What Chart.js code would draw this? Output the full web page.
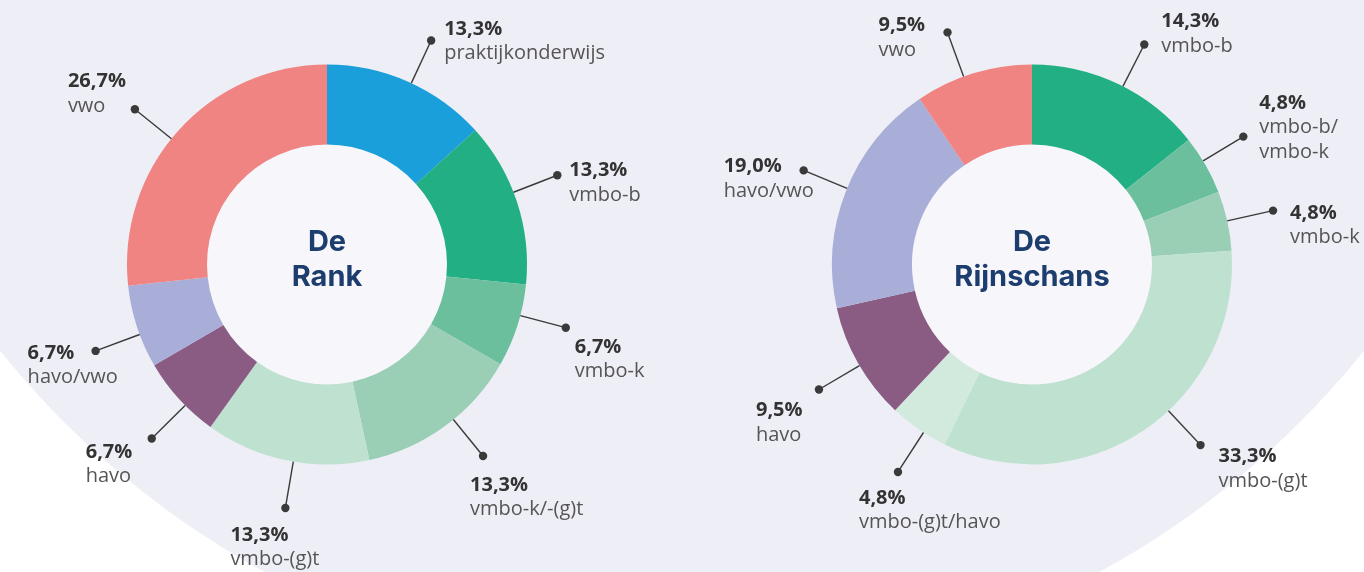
<!DOCTYPE html>
<html>
<head>
<meta charset="utf-8">
<script src="https://cdn.jsdelivr.net/npm/chart.js@4"></script>
<style>
    html, body { margin: 0; padding: 0; }
    body {
        width: 1364px;
        height: 572px;
        overflow: hidden;
        position: relative;
        background: #ffffff;
    }
    .backdrop {
        position: absolute;
        left: -192px;
        top: -1070px;
        width: 1748px;
        height: 1748px;
        border-radius: 50%;
        background: #eeeef6;
    }
    canvas { position: absolute; top: 0; }
    #rankChart { left: 0; }
    #rijnschansChart { left: 682px; }
</style>
</head>
<body>
<div class="backdrop"></div>
<canvas id="rankChart" width="682" height="572"></canvas>
<canvas id="rijnschansChart" width="682" height="572"></canvas>
<script>
// Data
const rankTitle = ['De', 'Rank'];
const rankLabels = ['praktijkonderwijs', 'vmbo-b', 'vmbo-k', 'vmbo-k/-(g)t', 'vmbo-(g)t', 'havo', 'havo/vwo', 'vwo'];
const rankValues = [13.3, 13.3, 6.7, 13.3, 13.3, 6.7, 6.7, 26.7];

const rijnTitle = ['De', 'Rijnschans'];
const rijnLabels = ['vmbo-b', ['vmbo-b/', 'vmbo-k'], 'vmbo-k', 'vmbo-(g)t', 'vmbo-(g)t/havo', 'havo', 'havo/vwo', 'vwo'];
const rijnValues = [14.3, 4.8, 4.8, 33.3, 4.8, 9.5, 19.0, 9.5];

// Colours
const rankColors = ['#1b9fda', '#22af83', '#6cbf9d', '#9acfb5', '#bfe1d0', '#8a5c83', '#a9aed8', '#f08482'];
const rijnColors = ['#22af83', '#6cbf9d', '#9acfb5', '#bfe1d0', '#d2eade', '#8a5c83', '#a9aed8', '#f08482'];

const FONT = '"Open Sans", "Noto Sans", sans-serif';

// Centre disc, title, leader lines and labels
const calloutPlugin = {
    id: 'callout',
    beforeDatasetsDraw(chart, args, opts) {
        const arc = chart.getDatasetMeta(0).data[0];
        if (!arc) return;
        const ctx = chart.ctx;
        ctx.save();
        ctx.beginPath();
        ctx.arc(arc.x, arc.y, arc.innerRadius, 0, Math.PI * 2);
        ctx.fillStyle = '#f7f7fb';
        ctx.fill();
        ctx.restore();
    },
    afterDatasetsDraw(chart, args, opts) {
        const ctx = chart.ctx;
        const meta = chart.getDatasetMeta(0);
        const values = chart.data.datasets[0].data;
        const labels = chart.data.labels;
        ctx.save();

        meta.data.forEach((arc, i) => {
            const p = arc.getProps(['x', 'y', 'startAngle', 'endAngle', 'outerRadius']);
            const angle = (p.startAngle + p.endAngle) / 2 + (opts.nudge[i] || 0) * Math.PI / 180;
            const cos = Math.cos(angle), sin = Math.sin(angle);
            const x0 = p.x + cos * p.outerRadius;
            const y0 = p.y + sin * p.outerRadius;
            const x1 = p.x + cos * p.outerRadius * 1.235;
            const y1 = p.y + sin * p.outerRadius * 1.235;

            ctx.strokeStyle = '#3a3a3a';
            ctx.lineWidth = 1.4;
            ctx.beginPath();
            ctx.moveTo(x0, y0);
            ctx.lineTo(x1, y1);
            ctx.stroke();
            ctx.fillStyle = '#3a3a3a';
            ctx.beginPath();
            ctx.arc(x1, y1, 4.2, 0, Math.PI * 2);
            ctx.fill();

            const off = opts.offsets[i];
            const tx = x1 + off[0];
            let ty = y1 + off[1];
            ctx.textAlign = 'left';
            ctx.textBaseline = 'alphabetic';
            ctx.font = 'bold 20px ' + FONT;
            ctx.fillStyle = '#333333';
            ctx.fillText(values[i].toFixed(1).replace('.', ',') + '%', tx, ty);
            ctx.font = '20px ' + FONT;
            ctx.fillStyle = '#555555';
            [].concat(labels[i]).forEach(line => {
                ty += 24.5;
                ctx.fillText(line, tx, ty);
            });
        });

        // title in the middle
        const c = meta.data[0];
        ctx.font = 'bold 29px Inter, Roboto, sans-serif';
        ctx.fillStyle = '#1c3d6e';
        ctx.textAlign = 'center';
        ctx.fillText(opts.title[0], c.x, c.y - 14);
        ctx.fillText(opts.title[1], c.x, c.y + 21);
        ctx.restore();
    }
};

function makeDoughnut(id, labels, values, colors, padding, callout) {
    const ctx = document.getElementById(id).getContext('2d');
    return new Chart(ctx, {
        type: 'doughnut',
        data: {
            labels: labels,
            datasets: [{
                data: values,
                backgroundColor: colors,
                borderWidth: 0
            }]
        },
        options: {
            responsive: false,
            animation: false,
            cutout: '60%',
            layout: { padding: padding },
            plugins: {
                legend: { display: false },
                tooltip: { enabled: false },
                callout: callout
            }
        },
        plugins: [calloutPlugin]
    });
}

// De Rank
const rankChart = makeDoughnut('rankChart', rankLabels, rankValues, rankColors,
    { left: 127, right: 155, top: 64, bottom: 107 },
    {
        title: rankTitle,
        nudge: [1, -3, -3, -3, -2, -2.5, -2.3, -3],
        offsets: [[13, -6], [12, 1], [9, 25], [-13, 35], [-55, 33], [-66, 19], [-68, 8], [-67, -22]]
    });

// De Rijnschans
const rijnChart = makeDoughnut('rijnschansChart', rijnLabels, rijnValues, rijnColors,
    { left: 150, right: 132, top: 64, bottom: 107 },
    {
        title: rijnTitle,
        nudge: [1.3, -1.3, 0, -9, -1.7, -0.7, 0.8, -2.9],
        offsets: [[17, -17], [16, -28], [17, 8], [18, 17], [-39, 32], [-63, 27], [-80, 2], [-69, -1]]
    });
</script>
</body>
</html>
